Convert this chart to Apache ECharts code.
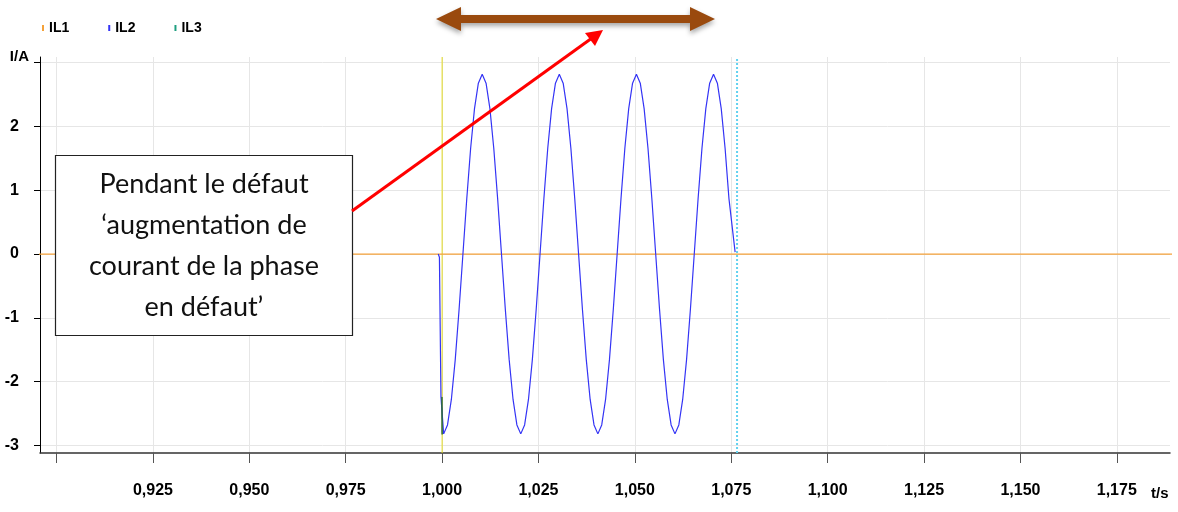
<!DOCTYPE html>
<html><head><meta charset="utf-8">
<script src="https://cdn.jsdelivr.net/npm/echarts@6/dist/echarts.min.js"></script>
<style>html,body{margin:0;padding:0;background:#fff}#c{width:1178px;height:512px}</style>
</head><body><div id="c"></div>
<script>
// ---- data ----
const seriesNames = ['IL1', 'IL2', 'IL3'];
const seriesColors = ['#f5a23a', '#3434f5', '#1f9f80'];
const xTickValues = [0.900, 0.925, 0.950, 0.975, 1.000, 1.025, 1.050, 1.075, 1.100, 1.125, 1.150, 1.175];
const xLabelValues = [0.925, 0.950, 0.975, 1.000, 1.025, 1.050, 1.075, 1.100, 1.125, 1.150, 1.175];
const yTickValues = [-3, -2, -1, 0, 1, 2, 3];
const yLabelValues = [-3, -2, -1, 0, 1, 2];
const xRange = [0.8957, 1.1888];
const yRange = [-3.12, 3.09];
const cursorTimes = [1.000, 1.0765];

const il1Time = [0.895, 1.190];
const il1Values = [0, 0];

const il2Time = [0.9990, 0.9993, 0.9997,
  1.0004, 1.0014, 1.0024, 1.0034, 1.0044, 1.0054, 1.0064, 1.0074, 1.0084, 1.0094,
  1.0104, 1.0114, 1.0124, 1.0134, 1.0144, 1.0154, 1.0164, 1.0174, 1.0184, 1.0194,
  1.0204, 1.0214, 1.0224, 1.0234, 1.0244, 1.0254, 1.0264, 1.0274, 1.0284, 1.0294,
  1.0304, 1.0314, 1.0324, 1.0334, 1.0344, 1.0354, 1.0364, 1.0374, 1.0384, 1.0394,
  1.0404, 1.0414, 1.0424, 1.0434, 1.0444, 1.0454, 1.0464, 1.0474, 1.0484, 1.0494,
  1.0504, 1.0514, 1.0524, 1.0534, 1.0544, 1.0554, 1.0564, 1.0574, 1.0584, 1.0594,
  1.0604, 1.0614, 1.0624, 1.0634, 1.0644, 1.0654, 1.0664, 1.0674, 1.0684, 1.0694,
  1.0704, 1.0714, 1.0724, 1.0734, 1.0744, 1.0760];
const il2Values = [0.00, -0.05, -2.24,
  -2.82, -2.68, -2.28, -1.66, -0.87, 0.00, 0.87, 1.66, 2.28, 2.68,
  2.82, 2.68, 2.28, 1.66, 0.87, 0.00, -0.87, -1.66, -2.28, -2.68,
  -2.82, -2.68, -2.28, -1.66, -0.87, 0.00, 0.87, 1.66, 2.28, 2.68,
  2.82, 2.68, 2.28, 1.66, 0.87, 0.00, -0.87, -1.66, -2.28, -2.68,
  -2.82, -2.68, -2.28, -1.66, -0.87, 0.00, 0.87, 1.66, 2.28, 2.68,
  2.82, 2.68, 2.28, 1.66, 0.87, 0.00, -0.87, -1.66, -2.28, -2.68,
  -2.82, -2.68, -2.28, -1.66, -0.87, 0.00, 0.87, 1.66, 2.28, 2.68,
  2.82, 2.68, 2.28, 1.66, 0.87, 0.03];

const il3Time = [0.99995, 1.00000];
const il3Values = [-2.24, -2.83];

const boxText = 'Pendant le défaut\n‘augmentation de\ncourant de la phase\nen défaut’';

// ---- chart ----
const zip = (a, b) => a.map((v, i) => [v, b[i]]);
const axisFont = "'Liberation Sans', Arial, sans-serif";
const fmtX = v => v.toFixed(3).replace('.', ',');

const chart = echarts.init(document.getElementById('c'), null, {renderer: 'canvas'});
chart.setOption({
  animation: false,
  backgroundColor: '#ffffff',
  legend: {
    data: seriesNames, left: 42, top: 21, icon: 'rect', itemWidth: 2, itemHeight: 6, itemGap: 39,
    padding: 0,
    textStyle: {color: '#000', fontWeight: 'bold', fontSize: 14, fontFamily: axisFont}
  },
  grid: {left: 40, right: 8, top: 57, bottom: 59, containLabel: false},
  xAxis: {
    type: 'value', min: xRange[0], max: xRange[1],
    name: 't/s', nameLocation: 'end', nameGap: -19,
    nameTextStyle: {color: '#000', fontWeight: 'bold', fontSize: 15, fontFamily: axisFont,
      verticalAlign: 'top', padding: [33, 0, 0, 0]},
    axisLine: {show: true, onZero: false, lineStyle: {color: '#333', width: 1.5}},
    axisTick: {show: true, length: 10, customValues: xTickValues, lineStyle: {color: '#555'}},
    axisLabel: {customValues: xLabelValues, formatter: fmtX, margin: 30, color: '#000',
      fontWeight: 'bold', fontSize: 16, fontFamily: axisFont},
    splitLine: {show: true, lineStyle: {color: '#e6e6e6', width: 1}}
  },
  yAxis: {
    type: 'value', min: yRange[0], max: yRange[1],
    name: 'I/A', nameLocation: 'end', nameGap: 0,
    nameTextStyle: {color: '#000', fontWeight: 'bold', fontSize: 15, fontFamily: axisFont,
      align: 'right', verticalAlign: 'middle', padding: [0, 11, 0, 0]},
    axisLine: {show: true, onZero: false, lineStyle: {color: '#000', width: 1}},
    axisTick: {show: true, length: 6, customValues: yTickValues, lineStyle: {color: '#000'}},
    axisLabel: {customValues: yLabelValues, margin: 21, color: '#000',
      fontWeight: 'bold', fontSize: 16, fontFamily: axisFont},
    splitLine: {show: true, lineStyle: {color: '#e6e6e6', width: 1}}
  },
  series: [
    {name: 'cursorA', type: 'line', data: zip([cursorTimes[0], cursorTimes[0]], yRange),
      showSymbol: false, symbol: 'none', silent: true, lineStyle: {width: 1, color: '#e4dc20'}},
    {name: 'cursorB', type: 'line', data: zip([cursorTimes[1], cursorTimes[1]], yRange),
      showSymbol: false, symbol: 'none', silent: true, lineStyle: {width: 2, color: '#62d2f0', type: [2, 2]}},
    {name: seriesNames[0], type: 'line', color: seriesColors[0], data: zip(il1Time, il1Values),
      showSymbol: false, symbol: 'none', lineStyle: {width: 1.2, color: seriesColors[0]}},
    {name: seriesNames[1], type: 'line', color: seriesColors[1], data: zip(il2Time, il2Values),
      showSymbol: false, symbol: 'none', lineStyle: {width: 1.2, color: seriesColors[1]}},
    {name: seriesNames[2], type: 'line', color: seriesColors[2], data: zip(il3Time, il3Values),
      showSymbol: false, symbol: 'none', lineStyle: {width: 1.5, color: '#2a6a3a'}}
  ],
  graphic: [
    {type: 'rect', z: 100, shape: {x: 55.5, y: 155.5, width: 297, height: 180},
      style: {fill: '#ffffff', stroke: '#222', lineWidth: 1.2}},
    {type: 'text', z: 101, x: 204, y: 246, style: {text: boxText, fill: '#111',
      font: "27px Lato, 'Open Sans', sans-serif", lineHeight: 41, align: 'center', verticalAlign: 'middle'}},
    {type: 'line', z: 100, shape: {x1: 352, y1: 211, x2: 592, y2: 38}, style: {stroke: '#ff0000', lineWidth: 3}},
    {type: 'polygon', z: 100, shape: {points: [[603, 30], [595, 46], [585, 33]]}, style: {fill: '#ff0000'}},
    {type: 'polygon', z: 100,
      shape: {points: [[436, 19], [461, 7], [461, 15], [690, 15], [690, 7], [715, 19], [690, 31], [690, 23], [461, 23], [461, 31]]},
      style: {fill: '#9a4a0e', shadowBlur: 5, shadowOffsetY: 3, shadowColor: 'rgba(0,0,0,0.35)'}}
  ]
});
</script></body></html>
